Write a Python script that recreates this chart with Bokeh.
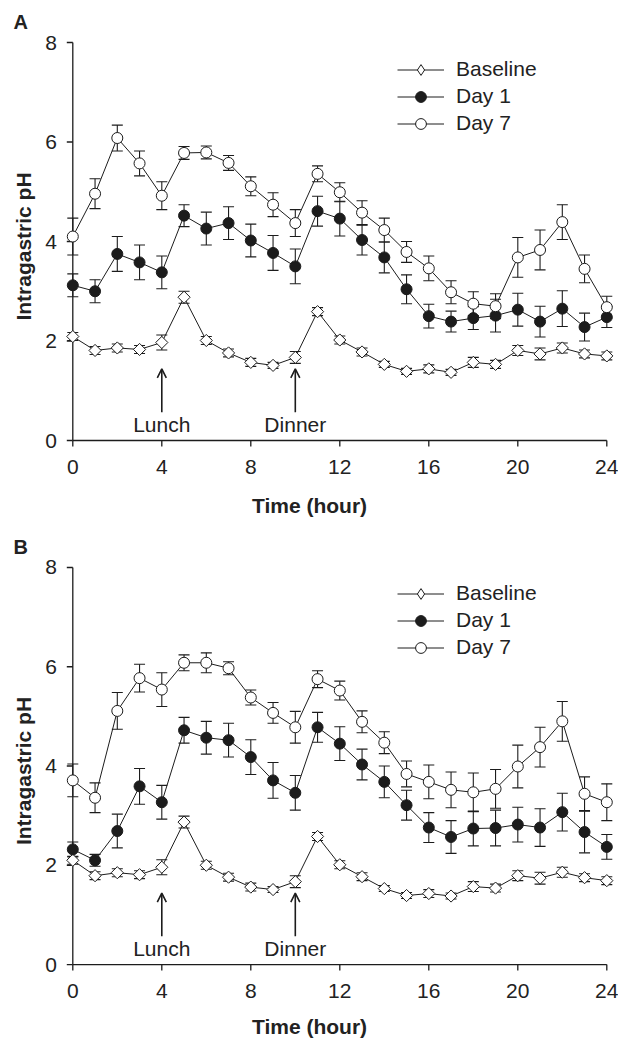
import math
from bokeh.plotting import figure
from bokeh.models import (ColumnDataSource, Whisker, TeeHead, Arrow, OpenHead,
                          Label, Legend, LegendItem, FixedTicker, Range1d, Title)
from bokeh.core.properties import value
from bokeh.layouts import column
from bokeh.embed import file_html
from bokeh.resources import INLINE

# ---------------- data ----------------
hours = list(range(25))
x_ticks = [0, 4, 8, 12, 16, 20, 24]
y_ticks = [0, 2, 4, 6, 8]
meal_hours = [4, 10]
meal_labels = ["Lunch", "Dinner"]
series_names = ["Baseline", "Day 1", "Day 7"]

a_baseline = [2.09, 1.81, 1.86, 1.83, 1.97, 2.88, 2.01, 1.76, 1.57, 1.51, 1.67, 2.59, 2.02,
              1.78, 1.53, 1.39, 1.44, 1.37, 1.57, 1.53, 1.81, 1.74, 1.86, 1.74, 1.70]
a_baseline_se = [0.08, 0.08, 0.08, 0.08, 0.15, 0.12, 0.08, 0.08, 0.08, 0.06, 0.12, 0.08, 0.08,
                 0.08, 0.06, 0.06, 0.08, 0.06, 0.10, 0.08, 0.10, 0.12, 0.10, 0.08, 0.08]
a_day1 = [3.12, 3.00, 3.75, 3.58, 3.38, 4.52, 4.26, 4.37, 4.02, 3.77, 3.50, 4.61, 4.46,
          4.03, 3.68, 3.04, 2.50, 2.39, 2.46, 2.51, 2.63, 2.39, 2.65, 2.28, 2.48]
a_day1_se = [0.23, 0.23, 0.35, 0.35, 0.33, 0.22, 0.33, 0.33, 0.33, 0.35, 0.35, 0.30, 0.35,
             0.30, 0.31, 0.29, 0.24, 0.21, 0.23, 0.33, 0.33, 0.31, 0.36, 0.28, 0.21]
a_day7 = [4.10, 4.96, 6.08, 5.57, 4.92, 5.78, 5.79, 5.58, 5.11, 4.74, 4.37, 5.36, 4.99,
          4.58, 4.23, 3.79, 3.46, 2.98, 2.75, 2.70, 3.68, 3.83, 4.39, 3.45, 2.68]
a_day7_se = [0.37, 0.30, 0.26, 0.25, 0.28, 0.13, 0.13, 0.15, 0.19, 0.24, 0.27, 0.16, 0.19,
             0.24, 0.24, 0.21, 0.25, 0.23, 0.24, 0.25, 0.40, 0.40, 0.35, 0.28, 0.22]

b_baseline = [2.10, 1.79, 1.85, 1.81, 1.96, 2.87, 2.00, 1.76, 1.56, 1.51, 1.67, 2.58, 2.01,
              1.77, 1.53, 1.39, 1.43, 1.38, 1.57, 1.54, 1.79, 1.74, 1.86, 1.75, 1.69]
b_baseline_se = [0.08, 0.08, 0.08, 0.08, 0.15, 0.12, 0.08, 0.08, 0.08, 0.06, 0.12, 0.08, 0.08,
                 0.08, 0.06, 0.06, 0.08, 0.06, 0.10, 0.08, 0.10, 0.12, 0.10, 0.08, 0.08]
b_day1 = [2.32, 2.10, 2.69, 3.59, 3.27, 4.72, 4.57, 4.52, 4.18, 3.71, 3.46, 4.78, 4.45,
          4.03, 3.68, 3.21, 2.76, 2.57, 2.74, 2.75, 2.82, 2.76, 3.07, 2.67, 2.37]
b_day1_se = [0.15, 0.12, 0.34, 0.36, 0.34, 0.26, 0.33, 0.34, 0.35, 0.36, 0.35, 0.30, 0.34,
             0.31, 0.32, 0.30, 0.30, 0.33, 0.35, 0.36, 0.35, 0.38, 0.38, 0.42, 0.25]
b_day7 = [3.71, 3.36, 5.11, 5.77, 5.54, 6.08, 6.08, 5.97, 5.38, 5.07, 4.78, 5.75, 5.52,
          4.89, 4.47, 3.84, 3.68, 3.52, 3.47, 3.54, 3.99, 4.38, 4.90, 3.44, 3.27]
b_day7_se = [0.33, 0.30, 0.37, 0.28, 0.34, 0.16, 0.20, 0.13, 0.15, 0.21, 0.32, 0.17, 0.19,
             0.22, 0.22, 0.26, 0.34, 0.36, 0.39, 0.39, 0.43, 0.40, 0.40, 0.34, 0.37]

# ---------------- style / layout constants ----------------
INK = "#1c1c1c"
TXT = "#222222"
FONT = "Liberation Sans"
FS = "21px"
ARROW_Y0, ARROW_Y1 = 0.57, 1.44
MEAL_LABEL_Y = 0.315
PX_X = 22.25        # px per hour
PX_Y = 49.75        # px per pH unit
X0_PX = 72.3        # page x of hour 0
PAD_TOP = 10        # px of frame above pH 8
PAD_BOT = 12        # px of frame below pH 0
TICK = 6
YLAB_CX = 50.7      # page x of the centre of the y tick labels
YTITLE_CX = 22.5    # page x of the centre of the y title


def make_panel(letter, means, ses, height, top, bottom, title_standoff):
    frame_h = height - top - bottom
    x_start = -X0_PX / PX_X
    p = figure(width=618, height=height,
               x_range=Range1d(x_start, x_start + 618 / PX_X),
               y_range=Range1d(y_ticks[0] - PAD_BOT / PX_Y, y_ticks[-1] + PAD_TOP / PX_Y),
               y_axis_location=None,
               output_backend="svg", toolbar_location=None,
               min_border_left=0, min_border_right=0,
               min_border_top=top, min_border_bottom=bottom)
    p.outline_line_color = None
    p.grid.visible = False
    p.background_fill_color = "white"
    p.border_fill_color = "white"

    # x axis: Bokeh axis provides tick labels and title; line and ticks drawn at pH 0
    xa = p.xaxis[0]
    xa.ticker = FixedTicker(ticks=x_ticks)
    xa.bounds = (x_ticks[0], x_ticks[-1])
    xa.axis_line_color = None
    xa.major_tick_line_color = None
    xa.minor_tick_line_color = None
    xa.major_tick_out = 0
    xa.major_tick_in = 0
    xa.minor_tick_out = 0
    xa.minor_tick_in = 0
    xa.major_label_standoff = 7
    xa.major_label_text_font = FONT
    xa.major_label_text_font_size = FS
    xa.major_label_text_color = TXT
    xa.axis_label = "Time (hour)"
    xa.axis_label_text_font = FONT
    xa.axis_label_text_font_size = FS
    xa.axis_label_text_font_style = "bold"
    xa.axis_label_text_color = TXT
    xa.axis_label_standoff = title_standoff

    # axis lines and ticks through the data scales
    p.line(x=[x_ticks[0], x_ticks[-1]], y=[y_ticks[0], y_ticks[0]], line_color=INK, line_width=1.3)
    p.line(x=[x_ticks[0], x_ticks[0]], y=[y_ticks[0], y_ticks[-1]], line_color=INK, line_width=1.3)
    p.ray(x=x_ticks, y=[y_ticks[0]] * len(x_ticks), length=TICK, length_units="screen",
          angle=-math.pi / 2, line_color=INK, line_width=1.3)
    p.ray(x=[x_ticks[0]] * len(y_ticks), y=y_ticks, length=TICK, length_units="screen",
          angle=math.pi, line_color=INK, line_width=1.3)
    p.text(x=[(YLAB_CX - X0_PX) / PX_X] * len(y_ticks), y=y_ticks,
           text=[str(t) for t in y_ticks],
           text_align="center", text_baseline="middle",
           text_font=value(FONT), text_font_size=value(FS), text_color=TXT)
    # y axis title
    p.text(x=[(YTITLE_CX - X0_PX) / PX_X], y=[(y_ticks[0] + y_ticks[-1]) / 2 - 5 / PX_Y],
           text=["Intragastric pH"], angle=math.pi / 2, text_align="center",
           text_baseline="middle", text_font=value(FONT), text_font_size=value(FS),
           text_font_style="bold", text_color=TXT)

    items = []
    styles = [
        dict(marker="square", angle=math.pi / 4, size=8.6, fill_color="white", legend="diamond"),
        dict(marker="circle", angle=0, size=11, fill_color=INK, legend="circle"),
        dict(marker="circle", angle=0, size=11, fill_color="white", legend="circle"),
    ]
    for name, m, se, st in zip(series_names, means, ses, styles):
        src = ColumnDataSource(dict(
            x=hours, y=m,
            upper=[a + b for a, b in zip(m, se)],
            lower=[a - b for a, b in zip(m, se)]))
        w = Whisker(source=src, base="x", upper="upper", lower="lower",
                    line_color=INK, line_width=1.1,
                    upper_head=TeeHead(size=11, line_color=INK, line_width=1.1),
                    lower_head=TeeHead(size=11, line_color=INK, line_width=1.1))
        p.add_layout(w)
        ln = p.line("x", "y", source=src, line_color=INK, line_width=1)
        p.scatter("x", "y", source=src, marker=st["marker"], angle=st["angle"],
                  size=st["size"], fill_color=st["fill_color"],
                  line_color=INK, line_width=1)
        # legend key only (a single NaN point draws nothing in the plot)
        proxy = p.scatter(x=[float("nan")], y=[float("nan")], marker=st["legend"], size=11,
                          fill_color=st["fill_color"], line_color=INK, line_width=1)
        items.append(LegendItem(label=name, renderers=[ln, proxy]))

    legend = Legend(items=items, location=(397, frame_h - PAD_TOP - 13.5 - 81),
                    glyph_width=47, glyph_height=27, label_height=27,
                    label_standoff=12, spacing=0, padding=0, margin=0,
                    background_fill_alpha=0, border_line_color=None,
                    label_text_font=FONT, label_text_font_size=FS,
                    label_text_color=TXT)
    p.add_layout(legend)

    for mh, ml in zip(meal_hours, meal_labels):
        p.add_layout(Arrow(x_start=mh, y_start=ARROW_Y0, x_end=mh, y_end=ARROW_Y1,
                           line_color=INK, line_width=1.6,
                           end=OpenHead(size=9, line_color=INK, line_width=1.6)))
        p.add_layout(Label(x=mh, y=MEAL_LABEL_Y, text=ml, text_align="center",
                           text_baseline="alphabetic", text_font=FONT,
                           text_font_size=FS, text_color=TXT))

    p.add_layout(Title(text=letter, align="left", offset=13, standoff=0,
                       text_font=FONT, text_font_size="20px", text_font_style="bold",
                       text_color=TXT), "above")
    return p


pA = make_panel("A", [a_baseline, a_day1, a_day7],
                [a_baseline_se, a_day1_se, a_day7_se],
                height=525, top=32, bottom=73, title_standoff=17)
pB = make_panel("B", [b_baseline, b_day1, b_day7],
                [b_baseline_se, b_day1_se, b_day7_se],
                height=515, top=32, bottom=63, title_standoff=14)

layout = column(pA, pB, spacing=0)
open("out.html", "w").write(file_html(layout, INLINE))
